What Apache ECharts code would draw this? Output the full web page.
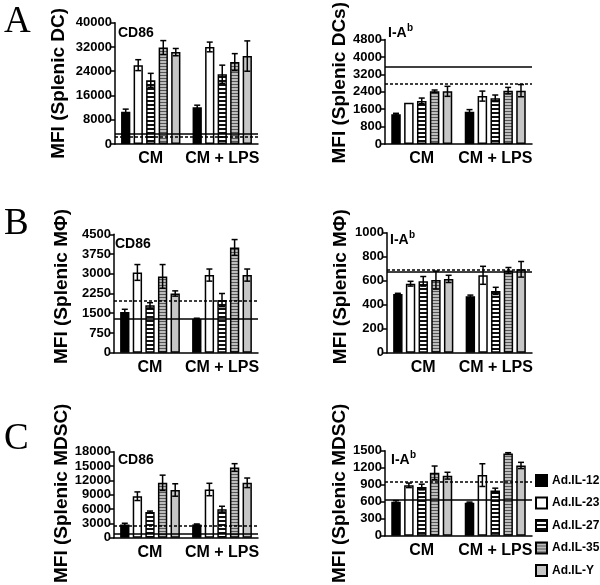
<!DOCTYPE html>
<html>
<head>
<meta charset="utf-8">
<script src="https://cdn.jsdelivr.net/npm/echarts@6/dist/echarts.min.js"></script>
<style>
html,body{margin:0;padding:0;background:#fff;}
#chart{width:600px;height:585px;}
</style>
</head>
<body>
<div id="chart"></div>
<script>
// ---------- DATA ----------
const categories = ['CM', 'CM + LPS'];
const seriesNames = ['Ad.IL-12', 'Ad.IL-23', 'Ad.IL-27', 'Ad.IL-35', 'Ad.IL-Y'];

// Panel A, CD86 (Splenic DC): per series [CM, CM + LPS]
const aCd86Mean = [[10600, 12100], [26000, 32000], [21000, 23000], [31800, 27000], [30300, 29000]];
const aCd86Err  = [[900, 700], [1800, 1600], [2300, 3000], [2300, 2800], [1200, 5000]];
const aCd86Ref  = [3500, 2500];          // [solid, dashed]
const aCd86Ticks = [0, 40000, 8000];     // [min, max, interval]

// Panel A, I-Ab (Splenic DCs)
const aIabMean = [[1370, 1480], [1900, 2200], [1980, 2100], [2420, 2450], [2420, 2450]];
const aIabErr  = [[40, 100], [0, 230], [130, 150], [60, 150], [230, 280]];
const aIabRef  = [3550, 2750];
const aIabTicks = [0, 4800, 800];

// Panel B, CD86 (Splenic MΦ)
const bCd86Mean = [[1550, 1280], [3050, 2950], [1800, 2000], [2900, 4000], [2250, 2950]];
const bCd86Err  = [[100, 30], [300, 230], [100, 250], [450, 300], [100, 230]];
const bCd86Ref  = [1290, 1970];
const bCd86Ticks = [0, 4500, 750];

// Panel B, I-Ab (Splenic MΦ)
const bIabMean = [[490, 470], [575, 645], [595, 515], [605, 685], [615, 695]];
const bIabErr  = [[5, 10], [20, 75], [40, 30], [75, 25], [30, 65]];
const bIabRef  = [678, 690];
const bIabTicks = [0, 1000, 200];

// Panel C, CD86 (Splenic MDSC)
const cCd86Mean = [[2800, 2800], [8700, 10100], [5400, 6000], [11500, 14700], [10000, 11500]];
const cCd86Err  = [[250, 100], [900, 1300], [200, 600], [1600, 800], [1300, 1000]];
const cCd86Ref  = [800, 2500];
const cCd86Ticks = [0, 18000, 3000];

// Panel C, I-Ab (Splenic MDSC)
const cIabMean = [[600, 585], [890, 1070], [860, 800], [1110, 1450], [1060, 1240]];
const cIabErr  = [[20, 10], [40, 200], [50, 40], [120, 15], [60, 55]];
const cIabRef  = [640, 950];
const cIabTicks = [0, 1500, 300];

const yTitles = ['MFI (Splenic DC)', 'MFI (Splenic DCs)', 'MFI (Splenic M\u03A6)', 'MFI (Splenic M\u03A6)', 'MFI (Splenic MDSC)', 'MFI (Splenic MDSC)'];

// ---------- LAYOUT / STYLE ----------
const panels = [
  {mean: aCd86Mean, err: aCd86Err, ref: aCd86Ref, ticks: aCd86Ticks, grid: [115, 22.7, 143, 121.3], gap: 47, pad: 0},
  {mean: aIabMean,  err: aIabErr,  ref: aIabRef,  ticks: aIabTicks,  grid: [385, 26.7, 147, 117.3], gap: 34, pad: 18},
  {mean: bCd86Mean, err: bCd86Err, ref: bCd86Ref, ticks: bCd86Ticks, grid: [114, 234.3, 144, 118.4], gap: 43, pad: 14},
  {mean: bIabMean,  err: bIabErr,  ref: bIabRef,  ticks: bIabTicks,  grid: [387, 232.7, 145, 120], gap: 37, pad: 12},
  {mean: cCd86Mean, err: cCd86Err, ref: cCd86Ref, ticks: cCd86Ticks, grid: [114, 451.7, 144, 109], gap: 43, pad: 3},
  {mean: cIabMean,  err: cIabErr,  ref: cIabRef,  ticks: cIabTicks,  grid: [385, 450.7, 147, 108.6], gap: 35, pad: 0}
];

const FONT = '"Liberation Sans", Arial, sans-serif';
const CAT_GAP = 0.17;
const BAR_GAP = 0.35;

function stripePattern(bg, fg, period, lineH) {
  const c = document.createElement('canvas');
  c.width = 4; c.height = period;
  const ctx = c.getContext('2d');
  ctx.fillStyle = bg; ctx.fillRect(0, 0, 4, period);
  ctx.fillStyle = fg; ctx.fillRect(0, 0, 4, lineH);
  return {image: c, repeat: 'repeat'};
}

const fills = [
  '#000000',
  '#ffffff',
  stripePattern('#ffffff', '#111111', 4, 2),
  stripePattern('#bdbdbd', '#555555', 3, 1),
  '#c6c6c6'
];

function renderErr(params, api) {
  const j = api.value(0), v = api.value(1), e = api.value(2), i = api.value(3);
  if (!e) return;
  const n = seriesNames.length;
  const band = api.size([1, 0])[0];
  const rem = band * (1 - CAT_GAP);
  const w = rem / (n + (n - 1) * BAR_GAP);
  const c0 = api.coord([j, v])[0];
  const x = c0 - rem / 2 + i * w * (1 + BAR_GAP) + w / 2;
  const yT = api.coord([j, v + e])[1];
  const yB = api.coord([j, v - e])[1];
  const cap = 3;
  const st = {stroke: '#000', lineWidth: 1.5};
  return {type: 'group', children: [
    {type: 'line', shape: {x1: x, y1: yT, x2: x, y2: yB}, style: st},
    {type: 'line', shape: {x1: x - cap, y1: yT, x2: x + cap, y2: yT}, style: st},
    {type: 'line', shape: {x1: x - cap, y1: yB, x2: x + cap, y2: yB}, style: st}
  ]};
}

const grids = [], xAxes = [], yAxes = [], series = [];
panels.forEach((p, k) => {
  grids.push({left: p.grid[0], top: p.grid[1], width: p.grid[2], height: p.grid[3]});
  xAxes.push({
    type: 'category', gridIndex: k, data: categories,
    axisLine: {lineStyle: {color: '#000', width: 1.5}},
    axisTick: {alignWithLabel: true, length: 5, lineStyle: {color: '#000', width: 1.5}},
    axisLabel: {interval: 0, hideOverlap: false, color: '#000', fontFamily: FONT, fontWeight: 'bold', fontSize: 16, margin: 7}
  });
  yAxes.push({
    type: 'value', gridIndex: k, min: p.ticks[0], max: p.ticks[1], interval: p.ticks[2],
    name: yTitles[k], nameLocation: 'middle', nameGap: p.gap, nameRotate: 90,
    nameTextStyle: {color: '#000', fontFamily: FONT, fontWeight: 'bold', fontSize: 19, padding: [0, 0, 0, p.pad]},
    splitLine: {show: false},
    axisLine: {show: true, lineStyle: {color: '#000', width: 1.5}},
    axisTick: {show: true, length: 4, lineStyle: {color: '#000', width: 1.5}},
    axisLabel: {color: '#000', fontFamily: FONT, fontWeight: 'bold', fontSize: 13, margin: 3, formatter: v => String(v)}
  });
  seriesNames.forEach((name, i) => {
    series.push({
      type: 'bar', name: name, xAxisIndex: k, yAxisIndex: k,
      data: p.mean[i],
      barCategoryGap: (CAT_GAP * 100) + '%', barGap: (BAR_GAP * 100) + '%',
      itemStyle: {color: fills[i], borderColor: '#000', borderWidth: 1.5},
      z: 2
    });
  });
  const errData = [];
  seriesNames.forEach((name, i) => {
    categories.forEach((c, j) => errData.push([j, p.mean[i][j], p.err[i][j], i]));
  });
  series.push({
    type: 'custom', name: '_err' + k, xAxisIndex: k, yAxisIndex: k,
    renderItem: renderErr, data: errData, z: 4, silent: true
  });
  series.push({
    type: 'line', name: '_ref' + k, xAxisIndex: k, yAxisIndex: k, data: [], z: 5, silent: true,
    markLine: {
      silent: true, symbol: 'none', label: {show: false}, animation: false,
      data: [
        {yAxis: p.ref[0], lineStyle: {color: '#000', width: 1.5, type: 'solid'}},
        {yAxis: p.ref[1], lineStyle: {color: '#000', width: 1.5, type: [3, 2]}}
      ]
    }
  });
});

const panelLetters = [['A', 22.5], ['B', 224.5], ['C', 439]];
const cd86Pos = [[118, 33], [115, 244], [118, 460.5]];
const iabPos = [[388, 33], [390, 240], [391, 460]];

const graphics = [];
panelLetters.forEach(l => graphics.push({type: 'text', style: {x: 4, y: l[1], text: l[0], font: '37px "Liberation Serif", "Times New Roman", serif', fill: '#000', verticalAlign: 'middle'}}));
cd86Pos.forEach(pp => graphics.push({type: 'text', z: 10, style: {x: pp[0], y: pp[1], text: 'CD86', font: 'bold 14px ' + FONT, fill: '#000', verticalAlign: 'middle'}}));
iabPos.forEach(pp => {
  graphics.push({type: 'text', z: 10, style: {x: pp[0], y: pp[1], text: 'I-A', font: 'bold 14px ' + FONT, fill: '#000', verticalAlign: 'middle'}});
  graphics.push({type: 'text', z: 10, style: {x: pp[0] + 19, y: pp[1] - 5, text: 'b', font: 'bold 10px ' + FONT, fill: '#000', verticalAlign: 'middle'}});
});

const chart = echarts.init(document.getElementById('chart'), null, {renderer: 'canvas'});
chart.setOption({
  animation: false,
  backgroundColor: '#fff',
  grid: grids, xAxis: xAxes, yAxis: yAxes, series: series,
  legend: {
    data: seriesNames, orient: 'vertical', left: 535, top: 474, padding: 0,
    itemWidth: 11, itemHeight: 11, itemGap: 9.5, icon: 'rect',
    textStyle: {color: '#000', fontFamily: FONT, fontWeight: 'bold', fontSize: 12, overflow: 'none'},
    selectedMode: false
  },
  graphic: graphics
});
</script>
</body>
</html>
